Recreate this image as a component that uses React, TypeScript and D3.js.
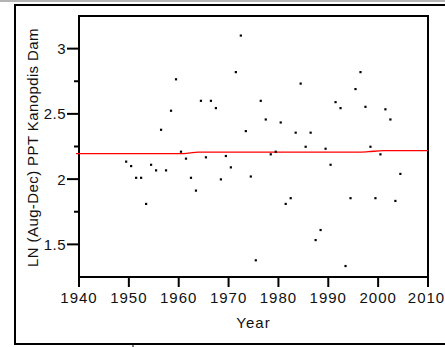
import * as d3 from "d3";

// water years plotted (one point per year)
const years = d3.range(1950, 2006);
const lnPpt = [
  2.134, 2.10, 2.01, 2.01, 1.81, 2.11, 2.067, 2.378, 2.067, 2.524,
  2.765, 2.21, 2.157, 2.01, 1.912, 2.60, 2.167, 2.60, 2.544, 1.998,
  2.177, 2.09, 2.82, 3.10, 2.368, 2.02, 1.378, 2.60, 2.457, 2.19,
  2.21, 2.434, 1.81, 1.854, 2.356, 2.732, 2.248, 2.356, 1.533, 1.61,
  2.233, 2.11, 2.59, 2.544, 1.334, 1.854, 2.69, 2.82, 2.554, 2.248,
  1.854, 2.19, 2.535, 2.457, 1.833, 2.04,
];
// smoothed fit (red)
const fitYears = [1939.4, 1960, 1961, 1964, 1996, 1998, 2001, 2010];
const fitVals = [2.195, 2.195, 2.196, 2.207, 2.207, 2.21, 2.218, 2.218];

const xTicks = [1940, 1950, 1960, 1970, 1980, 1990, 2000, 2010];
const yTicks = [1.5, 2, 2.5, 3];
const yMinor = [1.75, 2.25, 2.75];

const W = 445, H = 347;
const left = 79, right = 428, top = 16, bottom = 277;

const x = d3.scaleLinear().domain([1940, 2010]).range([left, right]);
const y = d3.scaleLinear().domain([1.25, 3.25]).range([bottom, top]);

const font = "'Liberation Sans', Arial, sans-serif";

export default function App() {
  const fitLine = d3.line<number>()
    .x((_d, i) => x(fitYears[i]))
    .y((d) => y(d))
    .curve(d3.curveMonotoneX)(fitVals);

  return (
    <svg width={W} height={H} style={{ position: "absolute", left: 0, top: 0 }}
      fontFamily={font} fontSize={15} fill="#111">
      <rect x={0} y={0} width={W} height={H} fill="#fff" />
      {/* window chrome / frame */}
      <rect x={0} y={0} width={W} height={2} fill="#b4b4b4" />
      <line x1={14} x2={W} y1={5} y2={5} stroke="#000" strokeWidth={2} />
      <line x1={15} x2={15} y1={4} y2={345} stroke="#000" strokeWidth={2} />
      <line x1={14} x2={W} y1={344} y2={344} stroke="#000" strokeWidth={2} />
      <line x1={133} x2={133} y1={344} y2={H} stroke="#000" strokeWidth={1} />

      {/* plot box */}
      <path d={`M${left},${top}H${right}V${bottom}H${left}Z`} fill="none" stroke="#000" strokeWidth={2} />

      {/* x axis */}
      {xTicks.map((t) => (
        <g key={t}>
          <line x1={x(t)} x2={x(t)} y1={bottom} y2={bottom + 10} stroke="#000" strokeWidth={2} />
          <text x={x(t) - (t === 2010 ? 1.5 : 0)} y={303} textAnchor="middle" letterSpacing={1}>{t}</text>
        </g>
      ))}
      <text x={(left + right) / 2} y={328} textAnchor="middle" letterSpacing={1}>Year</text>

      {/* y axis */}
      {yTicks.map((t) => (
        <g key={t}>
          <line x1={left - 12} x2={left} y1={y(t)} y2={y(t)} stroke="#000" strokeWidth={2} />
          <text x={66} y={y(t) + 5.5} textAnchor="end" letterSpacing={0.5}>{t}</text>
        </g>
      ))}
      {yMinor.map((t) => (
        <line key={t} x1={left - 5} x2={left} y1={y(t)} y2={y(t)} stroke="#000" strokeWidth={2} />
      ))}
      <text transform={`translate(38,${(top + bottom) / 2 + 1}) rotate(-90)`} textAnchor="middle" letterSpacing={0.4}>
        LN (Aug-Dec) PPT Kanopdis Dam
      </text>

      {/* fit */}
      <path d={fitLine || ""} fill="none" stroke="#ff0000" strokeWidth={1.3} />

      {/* points */}
      {years.map((yr, i) => (
        <rect key={yr} x={x(yr) - 3.8} y={y(lnPpt[i]) - 1.1} width={2.2} height={2.2} fill="#000" />
      ))}
    </svg>
  );
}
